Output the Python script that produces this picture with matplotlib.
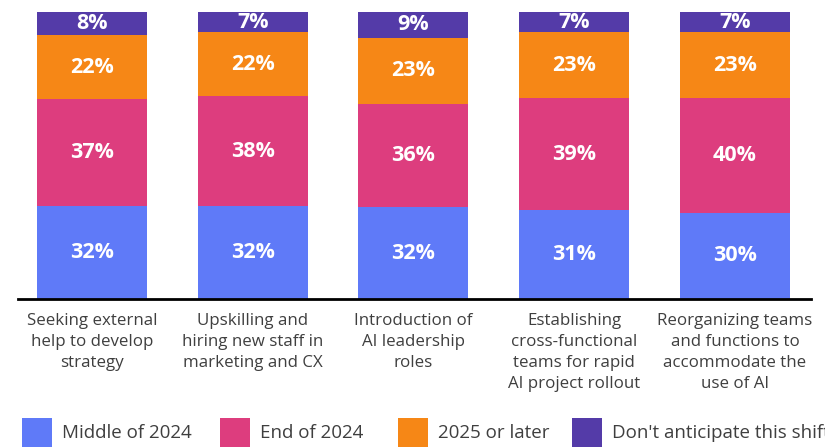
import numpy as np
import matplotlib
matplotlib.use("Agg")
import matplotlib.pyplot as plt
from matplotlib.patches import Rectangle

categories = [
    "Seeking external\nhelp to develop\nstrategy",
    "Upskilling and\nhiring new staff in\nmarketing and CX",
    "Introduction of\nAI leadership\nroles",
    "Establishing\ncross-functional\nteams for rapid\nAI project rollout",
    "Reorganizing teams\nand functions to\naccommodate the\nuse of AI",
]
series_names = ["Middle of 2024", "End of 2024", "2025 or later", "Don't anticipate this shift"]
middle_2024 = [32, 32, 32, 31, 30]
end_2024 = [37, 38, 36, 39, 40]
later_2025 = [22, 22, 23, 23, 23]
not_anticipate = [8, 7, 9, 7, 7]
colors = ["#5F7AF8", "#DD3D7E", "#F68716", "#543BA8"]

plt.rcParams['font.family'] = ['Open Sans', 'DejaVu Sans']
text_color = "#3f3f3f"

fig = plt.figure(figsize=(8.25, 4.47), dpi=100)
ax = fig.add_axes([18 / 825, 1 - 299 / 447, (811 - 18) / 825, (299 - 12) / 447])

data = np.array([middle_2024, end_2024, later_2025, not_anticipate], dtype=float)
totals = data.sum(axis=0)
x = np.arange(len(categories))
bottom = np.zeros(len(categories))
for vals, col in zip(data, colors):
    share = vals / totals * 100
    ax.bar(x, share, bottom=bottom, width=0.684, color=col, linewidth=0)
    for xi, b, s, v in zip(x, bottom, share, vals):
        ax.text(xi, b + s / 2, f"{int(v)}%", ha="center", va="center",
                color="white", fontsize=15.5, fontweight="bold")
    bottom += share

ax.set_xlim(-0.46, 4.473)
ax.set_ylim(0, 100)
ax.set_yticks([])
ax.set_xticks(x)
ax.set_xticklabels(categories, fontsize=12.2, color=text_color, linespacing=1.42)
ax.tick_params(axis="x", length=0, pad=10)
for side in ["top", "right", "left"]:
    ax.spines[side].set_visible(False)
ax.spines["bottom"].set_linewidth(2)
ax.spines["bottom"].set_color("black")

# legend along the bottom edge (last label runs off the right edge, as in the source)
sq_x = [22, 220, 398, 572]
for name, col, px in zip(series_names, colors, sq_x):
    fig.add_artist(Rectangle((px / 825, 0.0), 30 / 825, 29 / 447,
                             transform=fig.transFigure, color=col, lw=0))
    fig.text((px + 40) / 825, 1 - 433 / 447, name, fontsize=13.5,
             color=text_color, va="center", ha="left")

fig.savefig("out.png", dpi=100)
